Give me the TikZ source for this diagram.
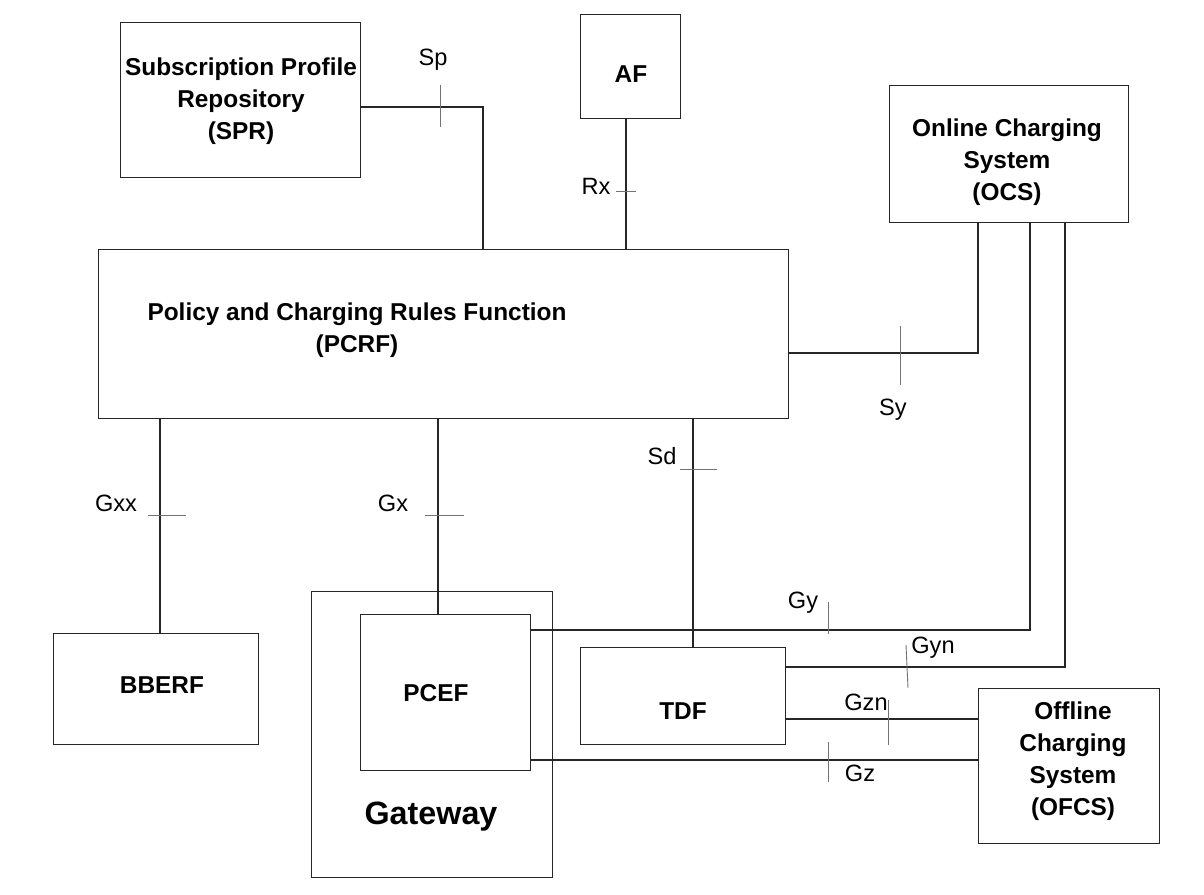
\documentclass[tikz,border=0pt]{standalone}
\usepackage{fontspec}
\setmainfont{Liberation Sans}
\begin{document}
\begin{tikzpicture}[x=1pt,y=-1pt,
  box/.style={draw=black!85, line width=1.3pt, inner sep=0pt, anchor=north west},
  lbl/.style={font=\fontsize{24.4}{31.8}\selectfont\bfseries, align=center, inner sep=0pt},
  iface/.style={font=\fontsize{23.6}{27}\selectfont, inner sep=0pt, anchor=base},
  conn/.style={draw=black!85, line width=1.3pt},
  tick/.style={draw=black!55, line width=0.9pt}]
\useasboundingbox (0,0) rectangle (1204,894);
% boxes
\node[box, minimum width=240pt, minimum height=155pt] (spr) at (120,22) {};
\node[box, minimum width=100pt, minimum height=104pt] (af) at (580,14) {};
\node[box, minimum width=239pt, minimum height=137pt] (ocs) at (889,85) {};
\node[box, minimum width=690pt, minimum height=169pt] (pcrf) at (98,249) {};
\node[box, minimum width=205pt, minimum height=111pt] (bberf) at (53,633) {};
\node[box, minimum width=241pt, minimum height=286pt] (gw) at (311,591) {};
\node[box, minimum width=170pt, minimum height=156pt] (pcef) at (360,614) {};
\node[box, minimum width=205pt, minimum height=97pt] (tdf) at (580,647) {};
\node[box, minimum width=181pt, minimum height=155pt] (ofcs) at (978,688) {};
% box texts
\node[lbl] (sprT) at (241,101) {Subscription Profile\\Repository\\(SPR)};
\node[lbl] (afT) at (631,74) {AF};
\node[lbl] (ocsT) at (1007,162) {Online Charging\\System\\(OCS)};
\node[lbl] (pcrfT) at (357,330) {Policy and Charging Rules Function\\(PCRF)};
\node[lbl] (bberfT) at (162,685) {BBERF};
\node[lbl] (pcefT) at (436,693) {PCEF};
\node[lbl] (tdfT) at (683,711) {TDF};
\node[lbl] (ofcsT) at (1073,761) {Offline\\Charging\\System\\(OFCS)};
\node[lbl, font=\fontsize{32.3}{36}\selectfont\bfseries] (gwT) at (431,817) {Gateway};
% bend coordinates
\coordinate (spC) at (483,107);
\coordinate (rxC) at (626,0);
\coordinate (syC) at (978,353);
\coordinate (gxxC) at (160,0);
\coordinate (gxC) at (438,0);
\coordinate (sdC) at (693,0);
\coordinate (gyC) at (1030,630);
\coordinate (gynC) at (1065,667);
\coordinate (gznC) at (0,719);
\coordinate (gzC) at (0,760);
% connectors
\draw[conn] (spr.east |- spC) -| (spC |- pcrf.north);
\draw[conn] (af.south -| rxC) -- (pcrf.north -| rxC);
\draw[conn] (pcrf.east |- syC) -| (syC |- ocs.south);
\draw[conn] (pcrf.south -| gxxC) -- (bberf.north -| gxxC);
\draw[conn] (pcrf.south -| gxC) -- (pcef.north -| gxC);
\draw[conn] (pcrf.south -| sdC) -- (tdf.north -| sdC);
\draw[conn] (pcef.east |- gyC) -| (gyC |- ocs.south);
\draw[conn] (tdf.east |- gynC) -| (gynC |- ocs.south);
\draw[conn] (tdf.east |- gznC) -- (ofcs.west |- gznC);
\draw[conn] (pcef.east |- gzC) -- (ofcs.west |- gzC);
% interface ticks
\draw[tick] (440,85) -- (440,127);
\draw[tick] (616,191) -- (636,191);
\draw[tick] (900,326) -- (900,385);
\draw[tick] (148,515) -- (186,515);
\draw[tick] (425,515) -- (464,515);
\draw[tick] (680,469) -- (717,469);
\draw[tick] (828,602) -- (828,634);
\draw[tick] (906,645) -- (908,688);
\draw[tick] (888,700) -- (888,745);
\draw[tick] (828,742) -- (828,782);
% interface labels
\node[iface] (spL) at (433,65) {Sp};
\node[iface] (rxL) at (596,194) {Rx};
\node[iface] (syL) at (893,415) {Sy};
\node[iface] (gxxL) at (116,511) {Gxx};
\node[iface] (gxL) at (393,511) {Gx};
\node[iface] (sdL) at (662,464) {Sd};
\node[iface] (gyL) at (803,608) {Gy};
\node[iface] (gynL) at (933,653) {Gyn};
\node[iface] (gznL) at (866,710) {Gzn};
\node[iface] (gzL) at (860,781) {Gz};
\end{tikzpicture}
\end{document}
